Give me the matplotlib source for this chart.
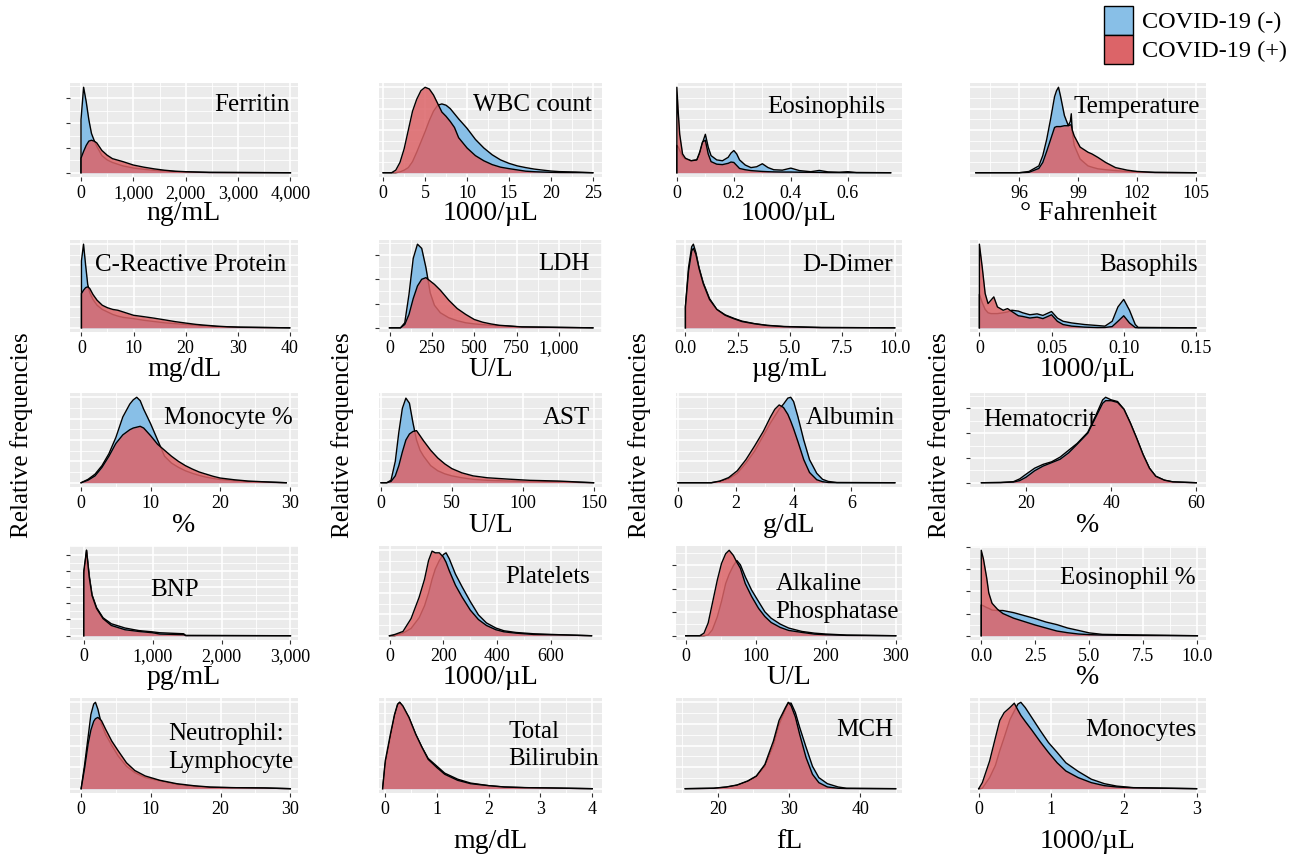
import matplotlib
matplotlib.use("Agg")
import matplotlib.pyplot as plt
from matplotlib.patches import Patch
from matplotlib.ticker import AutoMinorLocator, MultipleLocator

plt.rcParams["font.family"] = ["Liberation Serif", "DejaVu Serif"]

# ── data (relative frequency, peak of each panel = 100) ──────────────────────
ferritin_x   = [0, 0, 50, 100, 150, 200, 250, 300, 400, 500, 600, 800, 1000, 1200, 1400, 1600, 1800, 2000, 2450, 4000]
ferritin_neg = [0, 62, 100, 83, 62, 46, 38, 31, 20, 15, 12, 8, 5.5, 4, 2.8, 2, 1.3, 0.8, 0.3, 0]
ferritin_pos = [0, 17, 25, 32, 37, 38, 37, 35, 26, 20.5, 16.5, 13, 9, 6.5, 4.5, 2.9, 1.8, 1.2, 0.4, 0]

wbc_x   = [0, 1, 1.5, 2, 2.5, 3, 3.5, 4, 4.5, 5, 5.5, 6, 6.5, 7, 7.5, 8, 8.5, 9, 10, 11, 12, 13, 14, 15, 16, 17, 18, 19, 20, 21, 23, 25]
wbc_neg = [0, 0, 0, 1, 3, 6, 13, 24, 36, 48, 61, 72, 79, 80.5, 79, 75, 69, 63, 52, 39, 29, 21, 15, 11, 8, 6, 4.3, 3.1, 2, 1.3, 0.8, 0]
wbc_pos = [0, 0, 3, 12, 28, 50, 72, 86, 96, 100, 98, 91, 81, 71, 66, 60, 53, 41, 29, 20, 14, 9.5, 6.5, 4.8, 3.3, 1.8, 1.2, 0.8, 0.5, 0.3, 0.2, 0]

eos_x   = [0, 0, 0.005, 0.01, 0.02, 0.03, 0.05, 0.07, 0.08, 0.09, 0.1, 0.11, 0.12, 0.14, 0.16, 0.18, 0.19, 0.2,
           0.21, 0.22, 0.24, 0.26, 0.28, 0.3, 0.32, 0.34, 0.37, 0.4, 0.43, 0.47, 0.5, 0.53, 0.57, 0.6, 0.63, 0.75]
eos_neg = [0, 32, 30, 26, 19, 16, 14, 15, 22, 35, 45, 30, 20, 15, 14, 18, 23, 26,
           22, 15, 9, 6, 7, 10.5, 6, 3.5, 3, 5.4, 2.5, 1.2, 2.7, 1, 0.6, 1.2, 0.3, 0]
eos_pos = [0, 100, 70, 45, 22, 17, 14, 15, 24, 36, 38, 22, 13, 10, 9.5, 11, 12.5, 12,
           8.5, 5, 3.5, 2.5, 2, 1.5, 1.2, 1, 0.8, 0.8, 0.6, 0.5, 0.4, 0.2, 0.1, 0.1, 0, 0]

temp_x   = [93.8, 96, 96.5, 97, 97.2, 97.4, 97.6, 97.8, 97.9, 98, 98.1, 98.3, 98.5, 98.6, 98.65, 98.7, 98.8,
            99.1, 99.5, 99.7, 100, 100.4, 100.9, 101.5, 102, 102.9, 105]
temp_neg = [0, 0, 1.5, 8, 20, 39, 63, 89, 96, 100, 90, 67, 55, 60, 69, 47, 32, 16, 8, 6.5, 4.6, 3.5, 2.5, 1.5, 0.8, 0.3, 0]
temp_pos = [0, 0, 0.5, 5, 12, 25, 39, 53, 54, 54, 54, 55, 55, 56, 56, 50, 43, 30, 24, 22, 18, 12, 6, 3, 1.5, 0.4, 0]

crp_x   = [0, 0, 0.4, 0.8, 1.2, 1.6, 2.2, 3, 4, 5, 6, 7, 8, 10, 12, 14, 16, 18, 20, 22, 24, 26, 28, 30.5, 40]
crp_neg = [0, 80, 100, 75, 52, 42, 34, 27, 22, 19, 16, 14, 12.5, 11, 9, 7.5, 6, 5, 4, 3, 2.2, 1.5, 1, 0.6, 0]
crp_pos = [0, 41, 45, 48, 49, 47, 40, 33, 27, 24, 22, 21, 19, 15, 13.3, 11.5, 9.5, 7.4, 5.7, 4.1, 3, 2, 1.3, 0.8, 0]

ldh_x   = [0, 65, 90, 115, 140, 165, 190, 215, 240, 265, 300, 350, 400, 450, 500, 550, 600, 650, 700, 780, 1200]
ldh_neg = [0, 0, 6, 40, 83, 100, 95, 72, 42, 27, 18, 12, 8.5, 6, 4.7, 3.8, 3, 2.4, 2, 1, 0]
ldh_pos = [0, 0, 4, 16, 35, 50, 58, 60, 56, 52, 45, 33, 23, 16, 10, 6.7, 4.6, 3, 2.3, 1.1, 0]

ddimer_x   = [0, 0, 0.15, 0.3, 0.38, 0.5, 0.65, 0.85, 1.15, 1.5, 1.9, 2.3, 2.7, 3.3, 3.9, 4.7, 5.9, 6.5, 10]
ddimer_neg = [0, 25, 72, 97, 100, 90, 72, 54, 35, 22, 15.5, 11.5, 8, 5, 3, 1.6, 0.8, 0.4, 0]
ddimer_pos = [0, 25, 68, 92, 95, 88, 71, 53, 34, 22, 15, 11, 7.5, 4.8, 2.8, 1.4, 0.6, 0.3, 0]

baso_x   = [0, 0, 0.002, 0.004, 0.006, 0.008, 0.01, 0.0125, 0.0165, 0.0195, 0.0225, 0.027, 0.03, 0.035, 0.04,
            0.044, 0.05, 0.054, 0.058, 0.064, 0.073, 0.082, 0.087, 0.092, 0.096, 0.1, 0.104, 0.108, 0.11, 0.15]
baso_neg = [0, 40, 30, 22, 18, 17, 17, 17, 18, 19, 21, 20, 18, 15.6, 16.7,
            14.8, 19.5, 11.7, 7.8, 5.8, 3.9, 2.7, 2, 7.8, 25, 34, 21, 3.9, 0.5, 0]
baso_pos = [0, 100, 72, 41, 29, 33, 37, 25, 21, 23, 19.5, 14.4, 13.6, 11.7, 12.8,
            11, 15.6, 7.8, 3.9, 2, 0.8, 0.3, 0.4, 1.5, 7.8, 14.4, 5.8, 0.3, 0, 0]

monopct_x   = [0, 1, 2, 3, 4, 5, 6, 7, 7.5, 8, 8.5, 9, 10, 11, 12, 13, 14, 15, 16, 17, 18, 19, 20, 22, 24, 26, 29.5]
monopct_neg = [0, 4, 10, 20, 34, 53, 77, 92, 97, 100, 96, 86, 69, 50, 31, 23, 18, 14, 11, 8.5, 6.5, 5, 3.8, 2.3, 1.3, 0.8, 0]
monopct_pos = [0, 3, 8, 18, 31, 46, 56, 62, 64, 65, 66, 64, 55, 45, 38, 31, 25, 20, 16, 12.5, 10, 7.5, 5.5, 3.5, 2, 1.2, 0]

ast_x   = [0, 4, 7, 10, 12.5, 15, 17.5, 20, 22.5, 25, 27.5, 30, 35, 40, 45, 50, 57, 65, 75, 90, 105, 125, 150]
ast_neg = [0, 0, 3, 25, 59, 87, 99, 93, 70, 50, 38, 31, 20, 14, 10.4, 8, 5.8, 4, 2.8, 2, 1.4, 1, 0]
ast_pos = [0, 0, 1.5, 8, 20, 36, 50, 57, 60, 61, 55, 49, 38, 29, 22, 16.5, 11.6, 8, 5.8, 4.2, 2.8, 2, 0]

albumin_x   = [0, 1.15, 1.45, 1.75, 2.05, 2.35, 2.65, 2.95, 3.2, 3.35, 3.5, 3.65, 3.8, 3.9, 4, 4.15, 4.35, 4.55, 4.8, 5, 5.2, 5.5, 7.5]
albumin_neg = [0, 0, 1.5, 4.5, 11, 23, 37, 55, 70, 78, 86, 92, 99, 100, 95, 77, 50, 27, 11, 4, 1.5, 0.3, 0]
albumin_pos = [0, 0, 2, 6, 14, 27, 43, 60, 77, 86, 91, 88, 80, 72, 63, 48, 27, 12, 3.5, 1.2, 0.3, 0, 0]

hct_x   = [9.5, 14, 17, 18.5, 20, 22, 24, 26, 28, 30, 32, 34.5, 36.5, 38, 38.7, 40, 41.5, 43, 44.5, 46, 47.5, 49, 50.5, 52.5, 54.5, 60]
hct_neg = [0, 0.3, 1.2, 4.5, 10, 17, 21.5, 24.5, 30, 38, 46, 59, 80, 97, 100, 97, 95, 86, 70, 52, 33, 17, 7.5, 3, 1, 0]
hct_pos = [0, 0.2, 0.8, 2.5, 6.5, 14, 19.5, 23.5, 27.5, 35, 45, 58, 78, 93, 96, 96, 94, 86, 70, 52, 33, 17, 7.5, 3, 1, 0]

bnp_x   = [0, 0, 40, 80, 120, 185, 280, 400, 600, 800, 1000, 1100, 1450, 1480, 3000]
bnp_neg = [0, 70, 100, 70, 48, 33, 21, 14, 9, 6, 4.5, 3.5, 2.3, 0.3, 0]
bnp_pos = [0, 76, 100, 68, 47, 32, 20, 12, 7, 5, 3.5, 2, 1.2, 0.2, 0]

plt_x   = [0, 20, 50, 80, 110, 130, 145, 158, 170, 185, 200, 210, 222, 245, 270, 300, 330, 360, 395, 425, 470, 535, 630, 675, 750]
plt_neg = [0, 0, 3, 8.5, 21, 35, 50, 66, 78, 88, 95, 97, 90, 72, 57, 40, 24.5, 15, 9, 5.8, 3.8, 2.3, 1.2, 0.7, 0]
plt_pos = [0, 1.5, 5, 20, 45, 66, 88, 99, 97, 97, 92, 86, 76, 59, 45, 30, 19, 12, 7, 4.6, 3, 1.5, 1, 0.7, 0]

alp_x   = [0, 20, 26, 32, 38, 45, 51, 57, 62, 68, 73, 78, 85, 94, 104, 113, 122, 135, 147, 166, 184, 200, 230, 300]
alp_neg = [0, 0, 0, 1, 7, 22, 40, 61, 72, 82, 88, 83, 69, 53.5, 40, 28, 20.5, 13.6, 9, 5, 3, 2, 0.8, 0]
alp_pos = [0, 0, 3, 15, 38, 65, 84.5, 96, 100, 94, 86, 79, 61, 46, 32, 22.5, 15.5, 9.7, 6.2, 3.9, 1.9, 1.2, 0.4, 0]

eospct_x   = [0, 0, 0.1, 0.25, 0.35, 0.5, 0.75, 1, 1.5, 2, 2.5, 3, 3.5, 4, 4.5, 5, 5.6, 7, 10]
eospct_neg = [0, 36, 35, 33, 32, 30, 29.5, 29.5, 27, 23.5, 20, 16, 13, 9, 6.2, 3.3, 1.6, 1, 0]
eospct_pos = [0, 100, 90, 68, 50, 38, 31, 26, 20.5, 16.5, 12.5, 9, 5.5, 3.5, 2, 1.3, 0.8, 0.4, 0]

nlr_x   = [0, 0.5, 1, 1.4, 1.8, 2.05, 2.4, 2.9, 3.5, 4.4, 5.3, 6.5, 7.7, 9.2, 11.3, 13.7, 16.1, 18.5, 21.5, 26.3, 30]
nlr_neg = [0, 28, 60, 86, 98, 100, 92, 75, 63, 50, 38, 26, 18.6, 12.8, 9, 5, 2.7, 1.5, 1.2, 0.8, 0]
nlr_pos = [0, 24, 52, 68, 78, 81, 82.5, 79, 69, 55, 44, 30, 21, 14.7, 9.7, 5.8, 3.5, 1.9, 1.2, 0.8, 0]

bili_x   = [-0.05, 0, 0.1, 0.18, 0.24, 0.28, 0.34, 0.46, 0.59, 0.71, 0.83, 1, 1.15, 1.4, 1.65, 2, 2.3, 2.7, 3.2, 4]
bili_neg = [0, 28, 60, 84, 97, 100, 95, 82, 63, 48, 35, 26, 18, 11, 6.5, 3.5, 2, 1.2, 0.8, 0]
bili_pos = [0, 32, 63, 86, 98, 100, 96, 82.5, 63, 48, 34, 24.4, 16.7, 9.7, 5.8, 3.5, 1.9, 1.2, 0.8, 0]

mch_x   = [15.4, 19.4, 21.2, 22.7, 24.2, 25.4, 26.6, 27.8, 28.6, 29.5, 29.9, 30.3, 30.9, 31.5, 32.4, 33.3, 34.2, 35.4, 36.9, 38.1, 45]
mch_neg = [0, 0.5, 1.8, 4, 8.5, 14, 26, 50, 74, 92, 99, 99, 88, 71, 48, 26, 12.8, 5.8, 2, 0.5, 0]
mch_pos = [0, 0.5, 2, 4.3, 9, 14.7, 28, 55, 79, 94, 100, 96, 83, 63, 36, 16.7, 7, 2, 0.5, 0.2, 0]

mono_x   = [0, 0.05, 0.15, 0.23, 0.29, 0.35, 0.43, 0.49, 0.54, 0.58, 0.64, 0.73, 0.85, 0.96, 1.08, 1.2, 1.37, 1.55, 1.73, 1.9, 2.13, 3]
mono_neg = [0, 0.5, 12.8, 27, 44, 59, 80, 90, 98, 100, 94, 82.5, 67, 53.5, 42, 30, 20, 11, 5.8, 3, 1.2, 0]
mono_pos = [0, 7, 32, 59, 79, 88, 94, 99, 91, 85, 78, 68, 54, 42, 30, 20.5, 12.8, 7, 3.5, 2, 1, 0]

# ── panel labels, units, axis ticks ──────────────────────────────────────────
NAMES = ["Ferritin", "WBC count", "Eosinophils", "Temperature",
         "C-Reactive Protein", "LDH", "D-Dimer", "Basophils",
         "Monocyte %", "AST", "Albumin", "Hematocrit",
         "BNP", "Platelets", "Alkaline\nPhosphatase", "Eosinophil %",
         "Neutrophil:\nLymphocyte", "Total\nBilirubin", "MCH", "Monocytes"]
UNITS = ["ng/mL", "1000/\u00b5L", "1000/\u00b5L", "\u00b0 Fahrenheit",
         "mg/dL", "U/L", "\u00b5g/mL", "1000/\u00b5L",
         "%", "U/L", "g/dL", "%",
         "pg/mL", "1000/\u00b5L", "U/L", "%",
         "", "mg/dL", "fL", "1000/\u00b5L"]
XTICKS = [[0, 1000, 2000, 3000, 4000], [0, 5, 10, 15, 20, 25], [0, 0.2, 0.4, 0.6], [96, 99, 102, 105],
          [0, 10, 20, 30, 40], [0, 250, 500, 750, 1000], [0, 2.5, 5, 7.5, 10], [0, 0.05, 0.10, 0.15],
          [0, 10, 20, 30], [0, 50, 100, 150], [0, 2, 4, 6], [20, 40, 60],
          [0, 1000, 2000, 3000], [0, 200, 400, 600], [0, 100, 200, 300], [0, 2.5, 5, 7.5, 10],
          [0, 10, 20, 30], [0, 1, 2, 3, 4], [20, 30, 40], [0, 1, 2, 3]]
XTICKLABELS = [["0", "1,000", "2,000", "3,000", "4,000"], ["0", "5", "10", "15", "20", "25"],
               ["0", "0.2", "0.4", "0.6"], ["96", "99", "102", "105"],
               ["0", "10", "20", "30", "40"], ["0", "250", "500", "750", "1,000"],
               ["0.0", "2.5", "5.0", "7.5", "10.0"], ["0", "0.05", "0.10", "0.15"],
               ["0", "10", "20", "30"], ["0", "50", "100", "150"], ["0", "2", "4", "6"], ["20", "40", "60"],
               ["0", "1,000", "2,000", "3,000"], ["0", "200", "400", "600"], ["0", "100", "200", "300"],
               ["0.0", "2.5", "5.0", "7.5", "10.0"],
               ["0", "10", "20", "30"], ["0", "1", "2", "3", "4"], ["20", "30", "40"], ["0", "1", "2", "3"]]

SERIES = [(ferritin_x, ferritin_neg, ferritin_pos), (wbc_x, wbc_neg, wbc_pos),
          (eos_x, eos_neg, eos_pos), (temp_x, temp_neg, temp_pos),
          (crp_x, crp_neg, crp_pos), (ldh_x, ldh_neg, ldh_pos),
          (ddimer_x, ddimer_neg, ddimer_pos), (baso_x, baso_neg, baso_pos),
          (monopct_x, monopct_neg, monopct_pos), (ast_x, ast_neg, ast_pos),
          (albumin_x, albumin_neg, albumin_pos), (hct_x, hct_neg, hct_pos),
          (bnp_x, bnp_neg, bnp_pos), (plt_x, plt_neg, plt_pos),
          (alp_x, alp_neg, alp_pos), (eospct_x, eospct_neg, eospct_pos),
          (nlr_x, nlr_neg, nlr_pos), (bili_x, bili_neg, bili_pos),
          (mch_x, mch_neg, mch_pos), (mono_x, mono_neg, mono_pos)]

# ── layout / style ───────────────────────────────────────────────────────────
W, H = 1304, 855
COLS = [(70, 298), (379, 602), (676, 902), (970, 1206)]
ROWS = [(83, 177), (240, 332), (393, 487), (546, 640), (698, 793)]
UNIT_OFFSET = [37, 37, 38, 37, 48]      # px below panel bottom
XLIMS = [(-210, 4145), (-0.5, 26.1), (-0.003, 0.79), (93.5, 105.5),
         (-2.2, 41.6), (-62, 1254), (-0.45, 10.35), (-0.0065, 0.157),
         (-1.6, 31.2), (-1.5, 156), (-0.07, 7.75), (6.8, 62.3),
         (-200, 3110), (-39, 789), (-14, 309), (-0.52, 10.4),
         (-1.6, 31.1), (-0.12, 4.19), (14.1, 45.9), (-0.12, 3.13)]
TITLE_POS = [(0.965, 0.77, "right"), (0.955, 0.77, "right"), (0.925, 0.745, "right"), (0.975, 0.745, "right"),
             (0.11, 0.73, "left"), (0.946, 0.74, "right"), (0.96, 0.73, "right"), (0.966, 0.73, "right"),
             (0.978, 0.735, "right"), (0.946, 0.735, "right"), (0.969, 0.735, "right"), (0.055, 0.71, "left"),
             (0.46, 0.53, "center"), (0.946, 0.67, "right"), (0.44, 0.45, "left"), (0.958, 0.66, "right"),
             (0.43, 0.47, "left"), (0.58, 0.50, "left"), (0.96, 0.66, "right"), (0.958, 0.66, "right")]
YSTEP = [29, 25, 25, 25, 25, 29, 25, 25, 25, 25, 25, 29, 19, 25, 27.5, 26, 25, 25, 25, 25]
SHOW_YTICKS = {0, 5, 11, 12, 14, 15}

BLUE = "#88BFE7"
RED = "#DC6468"
BG = "#EBEBEB"

fig = plt.figure(figsize=(W / 100, H / 100), dpi=100)

for i, (name, unit, (x, neg, pos)) in enumerate(zip(NAMES, UNITS, SERIES)):
    r, c = divmod(i, 4)
    (x0, x1), (y0, y1) = COLS[c], ROWS[r]
    ax = fig.add_axes([x0 / W, 1 - y1 / H, (x1 - x0) / W, (y1 - y0) / H])
    ax.set_facecolor(BG)

    ax.fill_between(x, neg, color=BLUE, lw=0, zorder=2)
    ax.plot(x, neg, color="black", lw=1.0, zorder=3)
    ax.fill_between(x, pos, color=RED, alpha=0.85, lw=0, zorder=4)
    ax.plot(x, pos, color="black", lw=1.0, zorder=5)

    ax.set_xlim(*XLIMS[i])
    ax.set_ylim(-5, 105)
    ax.set_xticks(XTICKS[i])
    ax.set_xticklabels(XTICKLABELS[i], fontsize=13)
    ax.xaxis.set_minor_locator(AutoMinorLocator(2))
    ax.yaxis.set_major_locator(MultipleLocator(YSTEP[i]))
    ax.yaxis.set_minor_locator(AutoMinorLocator(2))
    ax.grid(which="major", color="white", lw=1.2)
    ax.grid(which="minor", color="white", lw=0.6)
    ax.set_axisbelow(True)
    ax.tick_params(axis="x", which="major", length=3, width=0.8, color="#333333", pad=3)
    ax.tick_params(axis="both", which="minor", length=0)
    ax.tick_params(axis="y", which="major", labelleft=False,
                   length=3 if i in SHOW_YTICKS else 0, width=0.8, color="#333333")
    for s in ax.spines.values():
        s.set_visible(False)

    tx, ty, ha = TITLE_POS[i]
    ax.text(tx, ty, name, transform=ax.transAxes, ha=ha, va="center",
            fontsize=18, linespacing=1.35, zorder=6)
    if unit:
        ax.annotate(unit, xy=(0.5, 0), xycoords="axes fraction",
                    xytext=(0, -UNIT_OFFSET[r] * 0.72), textcoords="offset points",
                    ha="center", va="center", fontsize=20)

for xc in [22, 343, 640, 940]:
    fig.text(xc / W, 1 - 435 / H, "Relative frequencies", rotation=90,
             ha="center", va="center", fontsize=18)

fig.legend(handles=[Patch(facecolor=BLUE, edgecolor="black", lw=1.0, label="COVID-19 (-)"),
                    Patch(facecolor=RED, edgecolor="black", lw=1.0, label="COVID-19 (+)")],
           loc="upper left", bbox_to_anchor=(1104 / W, 1 - 6 / H), frameon=False,
           fontsize=17.5, handlelength=1.2, handleheight=1.45, labelspacing=0.0,
           handletextpad=0.35, borderpad=0, borderaxespad=0)

fig.savefig("out.png", dpi=100)
